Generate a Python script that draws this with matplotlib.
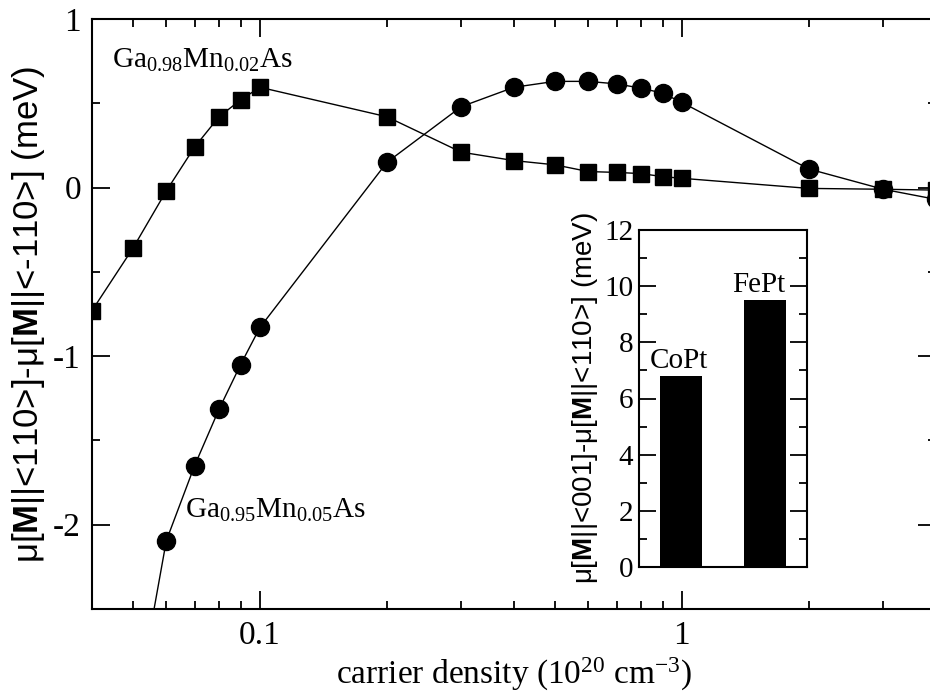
import matplotlib
matplotlib.use("Agg")
import matplotlib.pyplot as plt
from matplotlib.ticker import MultipleLocator, LogLocator, NullFormatter, FixedLocator, FixedFormatter

plt.rcParams['font.family'] = ['Liberation Serif', 'DejaVu Serif']
plt.rcParams['mathtext.fontset'] = 'custom'
plt.rcParams['mathtext.default'] = 'regular'
plt.rcParams['mathtext.bf'] = 'Liberation Sans:bold'
plt.rcParams['axes.unicode_minus'] = False

# Ga0.98Mn0.02As (squares)
x_sq = [0.04, 0.05, 0.06, 0.07, 0.08, 0.09, 0.1, 0.2, 0.3, 0.4, 0.5, 0.6, 0.7, 0.8, 0.9, 1.0, 2.0, 3.0, 4.0]
y_sq = [-0.73, -0.36, -0.02, 0.24, 0.42, 0.52, 0.595, 0.42, 0.21, 0.16, 0.135, 0.095, 0.09, 0.083, 0.065, 0.055, -0.005, -0.01, -0.015]

# Ga0.95Mn0.05As (circles)
x_ci = [0.05, 0.06, 0.07, 0.08, 0.09, 0.1, 0.2, 0.3, 0.4, 0.5, 0.6, 0.7, 0.8, 0.9, 1.0, 2.0, 3.0, 4.0]
y_ci = [-3.2, -2.095, -1.65, -1.315, -1.05, -0.83, 0.15, 0.48, 0.595, 0.63, 0.63, 0.615, 0.59, 0.56, 0.505, 0.11, -0.01, -0.07]

# Inset bars
bar_labels = ['CoPt', 'FePt']
bar_values = [6.8, 9.5]

fig = plt.figure(figsize=(9.3, 6.99), dpi=100)
ax = fig.add_axes([92/930, 90/699, 844/930, 590/699])

ax.plot(x_sq, y_sq, color='black', lw=1.0, marker='s', ms=11, mfc='black', mec='black', clip_on=True)
ax.plot(x_ci, y_ci, color='black', lw=1.0, marker='o', ms=13, mfc='black', mec='black', clip_on=True)

ax.set_xscale('log')
ax.set_xlim(0.04, 4)
ax.set_ylim(-2.5, 1)
ax.xaxis.set_major_locator(FixedLocator([0.1, 1]))
ax.xaxis.set_major_formatter(FixedFormatter(['0.1', '1']))
ax.xaxis.set_minor_locator(LogLocator(base=10, subs=range(2, 10)))
ax.xaxis.set_minor_formatter(NullFormatter())
ax.yaxis.set_major_locator(MultipleLocator(1))
ax.yaxis.set_minor_locator(MultipleLocator(0.5))
ax.tick_params(which='both', direction='in', top=True, right=True, labelsize=24, width=1.3)
ax.tick_params(which='major', length=13, pad=8)
ax.tick_params(which='minor', length=6)
for s in ax.spines.values():
    s.set_linewidth(1.5)

ax.set_xlabel('carrier density (10$^{20}$ cm$^{-3}$)', fontsize=24, labelpad=4)
ax.set_ylabel('μ[$\\mathbf{M}$||<110>]-μ[$\\mathbf{M}$||<-110>] (meV)',
              fontsize=25, family=['Liberation Sans', 'DejaVu Sans'], labelpad=4)

ax.text(0.0445, 0.71, 'Ga$_{0.98}$Mn$_{0.02}$As', fontsize=21, ha='left', va='baseline')
ax.text(0.0665, -1.96, 'Ga$_{0.95}$Mn$_{0.05}$As', fontsize=21, ha='left', va='baseline')

# Inset
ax2 = fig.add_axes([639/930, 132/699, 168/930, 337/699])
pos = [0.5, 1.5]
ax2.bar(pos, bar_values, width=0.51, color='black')
ax2.set_xlim(0, 2)
ax2.set_ylim(0, 12)
ax2.set_xticks([])
ax2.yaxis.set_major_locator(MultipleLocator(2))
ax2.yaxis.set_minor_locator(MultipleLocator(1))
ax2.tick_params(which='both', direction='in', right=True, labelsize=21, width=1.3)
ax2.tick_params(which='major', length=12, pad=4)
ax2.tick_params(which='minor', length=6)
for s in ax2.spines.values():
    s.set_linewidth(1.5)
ax2.set_ylabel('μ[$\\mathbf{M}$||<001]-μ[$\\mathbf{M}$||<110>] (meV)',
               fontsize=20, family=['Liberation Sans', 'DejaVu Sans'], labelpad=3)
for p, v, lab in zip(pos, bar_values, bar_labels):
    ax2.text(p - 0.02 if lab == 'CoPt' else p - 0.08, v + 0.3, lab, fontsize=21, ha='center', va='baseline')

fig.savefig('out.png', dpi=100)
